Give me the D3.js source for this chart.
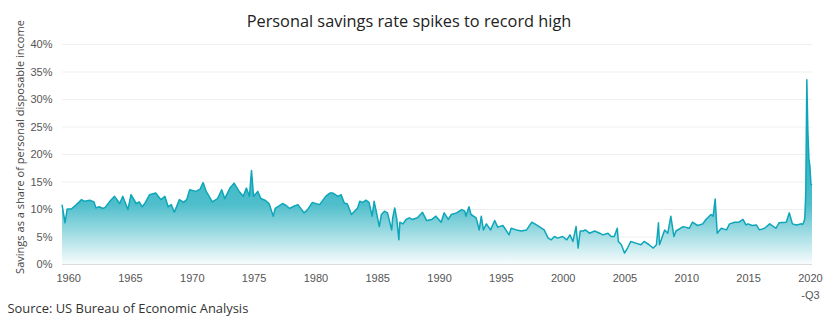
<!DOCTYPE html>
<html>
<head>
<meta charset="utf-8">
<script src="https://cdn.jsdelivr.net/npm/d3@7"></script>
<style>
  html, body { margin: 0; padding: 0; background: #fff; }
  svg { display: block; font-family: "Open Sans", "Noto Sans", sans-serif; }
</style>
</head>
<body>
<svg id="chart" width="830" height="325"></svg>
<script>
// US personal saving rate, % of disposable personal income (monthly readings)
const months = [
  "1960-01","1960-04","1960-06","1960-10","1961-03","1961-08","1961-11","1962-04","1962-08","1962-10",
  "1963-01","1963-05","1963-07","1963-11","1964-04","1964-09","1964-12","1965-05","1965-08","1966-01",
  "1966-04","1966-07","1966-10","1967-02","1967-08","1968-01","1968-05","1968-08","1968-11","1969-02",
  "1969-07","1969-11","1970-02","1970-05","1970-11","1971-03","1971-06","1971-09","1972-03","1972-08",
  "1972-12","1973-03","1973-08","1973-12","1974-05","1974-09","1974-12","1975-03","1975-05","1975-07",
  "1975-11","1976-02","1976-06","1976-10","1977-02","1977-04","1977-11","1978-03","1978-06","1978-10",
  "1979-02","1979-08","1979-11","1980-04","1980-11","1981-05","1981-09","1981-12","1982-05","1982-08",
  "1982-11","1983-02","1983-06","1983-09","1983-12","1984-02","1984-05","1984-08","1984-11","1985-02",
  "1985-04","1985-06","1985-09","1985-11","1986-02","1986-05","1986-09","1986-10","1986-12","1987-02",
  "1987-04","1987-05","1987-08","1987-11","1988-02","1988-05","1988-10","1989-03","1989-07","1989-12",
  "1990-04","1990-09","1990-12","1991-04","1991-07","1991-12","1992-05","1992-08","1992-09","1992-12",
  "1993-02","1993-07","1993-10","1993-12","1994-02","1994-05","1994-09","1995-01","1995-04","1995-09",
  "1996-03","1996-05","1996-10","1997-03","1997-08","1998-01","1998-04","1998-09","1999-01","1999-05",
  "1999-08","1999-11","2000-02","2000-07","2000-11","2001-02","2001-05","2001-08","2001-10","2001-12",
  "2002-03","2002-05","2002-09","2003-02","2003-07","2003-10","2004-03","2004-06","2004-09","2004-12",
  "2005-01","2005-04","2005-07","2005-10","2006-01","2006-06","2006-11","2007-02","2007-07","2007-11",
  "2008-02","2008-04","2008-05","2008-10","2009-01","2009-04","2009-07","2009-09","2010-04","2010-10",
  "2011-01","2011-06","2011-11","2012-02","2012-07","2012-09","2012-11","2013-01","2013-05","2013-10",
  "2014-01","2014-06","2014-10","2015-02","2015-05","2015-07","2015-11","2016-03","2016-06","2016-11",
  "2017-04","2017-10","2018-01","2018-08","2018-11","2019-02","2019-06","2019-11","2019-12","2020-01",
  "2020-02","2020-03","2020-04","2020-05","2020-06","2020-07","2020-08","2020-09"
];
const rates = [
  10.8, 7.5, 10.0, 10.0, 10.8, 11.7, 11.4, 11.6, 11.3, 10.2,
  10.4, 10.1, 10.3, 11.3, 12.3, 11.0, 12.3, 9.9, 12.6, 11.0,
  11.3, 10.4, 11.2, 12.6, 12.9, 11.7, 12.3, 10.4, 10.8, 9.4,
  11.7, 11.2, 11.7, 13.5, 13.2, 13.6, 14.8, 13.2, 11.3, 11.9,
  13.5, 11.9, 13.8, 14.7, 13.2, 12.3, 13.8, 12.3, 17.0, 12.3,
  13.2, 11.9, 11.6, 11.0, 8.7, 10.1, 11.0, 10.6, 10.1, 10.5,
  10.8, 9.3, 9.8, 11.2, 10.8, 12.3, 12.9, 12.9, 12.3, 12.6,
  11.1, 10.9, 9.0, 9.6, 10.2, 11.4, 11.2, 11.6, 11.2, 8.7,
  11.4, 9.6, 6.8, 9.0, 9.6, 9.3, 6.2, 8.4, 10.2, 8.1,
  4.4, 7.6, 7.3, 8.1, 8.4, 8.1, 8.4, 9.4, 7.9, 8.1,
  8.7, 7.6, 9.3, 8.1, 9.0, 9.3, 9.9, 9.6, 8.7, 10.4,
  9.0, 8.4, 6.2, 8.7, 6.2, 7.3, 6.2, 7.9, 6.7, 7.0,
  5.3, 6.5, 6.2, 6.0, 6.2, 7.6, 7.3, 6.7, 6.2, 4.7,
  4.4, 5.0, 4.7, 5.0, 4.4, 5.3, 4.1, 6.8, 2.9, 6.0,
  6.0, 6.2, 5.6, 6.0, 5.6, 5.3, 5.6, 5.0, 5.0, 6.5,
  4.1, 3.5, 2.0, 2.9, 4.1, 3.8, 3.5, 4.1, 3.5, 2.9,
  3.5, 7.5, 3.5, 6.2, 5.6, 8.7, 5.0, 6.0, 6.8, 6.5,
  7.6, 7.0, 7.3, 8.1, 9.0, 8.7, 11.8, 5.6, 6.5, 6.2,
  7.3, 7.6, 7.6, 8.1, 7.1, 7.3, 7.0, 7.1, 6.2, 6.5,
  7.3, 6.5, 7.5, 7.6, 9.3, 7.3, 7.1, 7.3, 7.2, 7.6,
  8.3, 12.9, 33.5, 24.4, 19.2, 17.8, 14.5, 14.3
];
const yTicks = [0, 5, 10, 15, 20, 25, 30, 35, 40];
const xTickYears = [1960, 1965, 1970, 1975, 1980, 1985, 1990, 1995, 2000, 2005, 2010, 2015, 2020];
const xTickLabels = ["1960","1965","1970","1975","1980","1985","1990","1995","2000","2005","2010","2015","2020\n-Q3"];

const titleText = "Personal savings rate spikes to record high";
const yAxisTitle = "Savings as a share of personal disposable income";
const sourceText = "Source: US Bureau of Economic Analysis";

const parseMonth = d3.timeParse("%Y-%m");
const data = months.map((m, i) => ({ date: parseMonth(m), value: rates[i] }));

const svg = d3.select("#chart");
const margin = { left: 62, right: 18, top: 44, bottom: 61 };
const W = 830, H = 325;

const x = d3.scaleTime()
  .domain([parseMonth("1960-01"), parseMonth("2020-09")])
  .range([margin.left, W - margin.right]);
const y = d3.scaleLinear()
  .domain([0, 40])
  .range([H - margin.bottom, margin.top]);

// Fill gradient: deep teal at the top fading to near white at zero
const defs = svg.append("defs");
const grad = defs.append("linearGradient")
  .attr("id", "savFill")
  .attr("gradientUnits", "userSpaceOnUse")
  .attr("x1", 0).attr("x2", 0)
  .attr("y1", y(34)).attr("y2", y(0));
grad.append("stop").attr("offset", 0).attr("stop-color", "#10a4b6");
grad.append("stop").attr("offset", 0.68).attr("stop-color", "#4ebecb");
grad.append("stop").attr("offset", 1).attr("stop-color", "#f7fcfd");

// Horizontal gridlines + y labels
const yAxis = d3.axisLeft(y)
  .tickValues(yTicks)
  .tickFormat(d => d + "%")
  .tickSize(-(W - margin.left - margin.right))
  .tickPadding(10);
const gy = svg.append("g")
  .attr("transform", `translate(${margin.left},0)`)
  .call(yAxis);
gy.select(".domain").remove();
gy.selectAll(".tick line").attr("stroke", d => d === 0 ? "#dcdcdc" : "#efefef").attr("stroke-width", 1);
gy.selectAll(".tick text")
  .attr("fill", "#555")
  .attr("font-size", 11)
  .attr("x", -9.5);

// Area and line
const area = d3.area()
  .x(d => x(d.date))
  .y0(y(0))
  .y1(d => y(d.value));
const line = d3.line()
  .x(d => x(d.date))
  .y(d => y(d.value));

svg.append("path")
  .datum(data)
  .attr("d", area)
  .attr("fill", "url(#savFill)");
svg.append("path")
  .datum(data)
  .attr("d", line)
  .attr("fill", "none")
  .attr("stroke", "#0ea6b9")
  .attr("stroke-width", 1.5)
  .attr("stroke-linejoin", "round");

// X axis labels, centred mid-year
const xTickDates = xTickYears.map(yr => new Date(yr, 6, 1));
const xAxis = d3.axisBottom(x)
  .tickValues(xTickDates)
  .tickSize(0)
  .tickPadding(0)
  .tickFormat((d, i) => xTickLabels[i]);
const gx = svg.append("g")
  .attr("transform", `translate(0,${y(0)})`)
  .call(xAxis);
gx.select(".domain").remove();
gx.selectAll(".tick text")
  .attr("fill", "#555")
  .attr("font-size", 11)
  .attr("dy", null)
  .attr("y", 18)
  .each(function(d, i) {
    const parts = xTickLabels[i].split("\n");
    const t = d3.select(this).text(null);
    parts.forEach((p, j) => {
      t.append("tspan").attr("x", 0).attr("dy", j === 0 ? 0 : 16.5).text(p);
    });
  });

// Helper: size a text so its rendered length matches a target width
function fitWidth(sel, target, base) {
  sel.attr("font-size", base);
  const len = sel.node().getComputedTextLength();
  sel.attr("font-size", base * target / len);
}

// Title
const title = svg.append("text")
  .attr("x", 409)
  .attr("y", 26.5)
  .attr("text-anchor", "middle")
  .attr("fill", "#222")
  .attr("font-weight", 500)
  .text(titleText);
fitWidth(title, 325, 15);

// Y axis title
const yt = svg.append("text")
  .attr("transform", `translate(24,147) rotate(-90)`)
  .attr("text-anchor", "middle")
  .attr("fill", "#444")
  .text(yAxisTitle);
fitWidth(yt, 254, 11.5);

// Source note
const src = svg.append("text")
  .attr("x", 7.5)
  .attr("y", 312.5)
  .attr("fill", "#333")
  .text(sourceText);
fitWidth(src, 241, 13);
</script>
</body>
</html>
